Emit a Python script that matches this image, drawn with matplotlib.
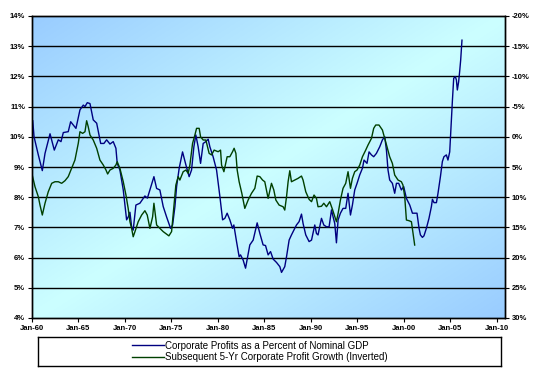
import numpy as np
import matplotlib
matplotlib.use("Agg")
import matplotlib.pyplot as plt
from matplotlib.lines import Line2D

plt.rcParams['font.family'] = ['Liberation Sans', 'DejaVu Sans']

# Corporate profits as % of nominal GDP (left axis)
profit_years = [1960.08, 1960.22, 1960.68, 1961.11, 1961.40, 1961.94, 1962.40, 1962.83, 1963.12, 1963.37,
                1963.90, 1964.16, 1964.73, 1965.16, 1965.52, 1965.70, 1965.95, 1966.24, 1966.59, 1966.96,
                1967.39, 1967.74, 1968.03, 1968.39, 1968.74, 1969.03, 1969.17, 1969.46, 1969.82, 1970.18,
                1970.36, 1970.54, 1970.72, 1970.89, 1971.18, 1971.61, 1972.15, 1972.42, 1972.69, 1973.12,
                1973.41, 1973.76, 1974.12, 1974.48, 1974.91, 1975.13, 1975.38, 1975.56, 1975.84, 1976.20,
                1976.56, 1976.91, 1977.17, 1977.42, 1977.63, 1977.88, 1978.14, 1978.42, 1978.71, 1978.96,
                1979.14, 1979.49, 1979.86, 1980.22, 1980.51, 1980.75, 1981.00, 1981.29, 1981.58, 1981.72,
                1982.01, 1982.29, 1982.44, 1982.72, 1982.98, 1983.44, 1983.80, 1984.23, 1984.52, 1984.87,
                1985.13, 1985.41, 1985.67, 1985.95, 1986.31, 1986.67, 1986.85, 1987.20, 1987.39, 1987.67,
                1987.92, 1988.28, 1988.46, 1988.74, 1989.00, 1989.17, 1989.46, 1989.82, 1990.08, 1990.43,
                1990.61, 1990.78, 1991.15, 1991.40, 1991.69, 1991.97, 1992.23, 1992.40, 1992.58, 1992.76,
                1992.94, 1993.19, 1993.47, 1993.76, 1994.01, 1994.27, 1994.48, 1994.73, 1994.98, 1995.27,
                1995.56, 1995.73, 1996.05, 1996.27, 1996.53, 1996.77, 1997.06, 1997.42, 1997.71, 1997.96,
                1998.14, 1998.31, 1998.49, 1998.78, 1999.03, 1999.22, 1999.46, 1999.75, 2000.00, 2000.29,
                2000.65, 2000.94, 2001.43, 2001.65, 2001.80, 2002.01, 2002.18, 2002.44, 2002.72, 2002.98,
                2003.09, 2003.26, 2003.52, 2003.69, 2003.95, 2004.16, 2004.33, 2004.59, 2004.76, 2004.95,
                2005.05, 2005.24, 2005.38, 2005.56, 2005.67, 2005.77, 2005.91, 2006.02, 2006.13, 2006.27]
profit_pct = [10.53, 10.00, 9.40, 8.88, 9.45, 10.10, 9.56, 9.90, 9.84, 10.14,
              10.17, 10.50, 10.28, 10.89, 11.05, 11.00, 11.13, 11.10, 10.56, 10.45,
              9.78, 9.78, 9.90, 9.76, 9.84, 9.62, 9.12, 8.90, 8.24, 7.25,
              7.35, 7.50, 7.02, 6.91, 7.74, 7.80, 8.04, 7.97, 8.24, 8.68,
              8.29, 8.24, 7.69, 7.35, 6.97, 7.08, 7.69, 8.35, 8.96, 9.50,
              9.07, 8.68, 8.90, 9.67, 10.06, 9.67, 9.12, 9.78, 9.84, 9.92,
              9.67, 9.34, 8.90, 8.02, 7.25, 7.30, 7.47, 7.25, 6.97, 7.08,
              6.53, 6.03, 6.09, 5.92, 5.65, 6.42, 6.58, 7.15, 6.80, 6.42,
              6.40, 6.09, 6.20, 5.95, 5.84, 5.70, 5.51, 5.70, 6.03, 6.58,
              6.75, 6.97, 7.08, 7.19, 7.44, 7.13, 6.75, 6.53, 6.58, 7.08,
              6.80, 6.75, 7.30, 7.08, 7.02, 7.02, 7.58, 7.35, 7.13, 6.49,
              7.25, 7.47, 7.63, 7.63, 8.13, 7.41, 7.74, 8.24, 8.46, 8.74,
              8.96, 9.23, 9.12, 9.50, 9.40, 9.34, 9.45, 9.67, 9.90, 10.00,
              9.56, 8.90, 8.57, 8.46, 8.13, 8.46, 8.46, 8.24, 8.35, 7.96,
              7.74, 7.47, 7.47, 6.97, 6.75, 6.67, 6.72, 6.97, 7.30, 7.69,
              7.93, 7.82, 7.82, 8.13, 8.68, 9.18, 9.34, 9.40, 9.23, 9.50,
              10.11, 11.20, 11.94, 11.99, 11.88, 11.55, 11.82, 12.16, 12.54, 13.20]

# Subsequent 5-yr corporate profit growth, inverted (right axis, %)
growth_years = [1960.00, 1960.32, 1960.68, 1960.86, 1961.11, 1961.40, 1961.75, 1962.12, 1962.47, 1962.83,
                1963.19, 1963.55, 1963.90, 1964.27, 1964.62, 1964.98, 1965.16, 1965.45, 1965.70, 1965.88,
                1966.05, 1966.24, 1966.59, 1966.96, 1967.31, 1967.67, 1967.96, 1968.14, 1968.39, 1968.74,
                1969.03, 1969.17, 1969.46, 1969.82, 1970.11, 1970.35, 1970.54, 1970.72, 1970.89, 1971.08,
                1971.43, 1971.80, 1972.15, 1972.40, 1972.69, 1972.98, 1973.12, 1973.41, 1973.76, 1974.12,
                1974.48, 1974.73, 1975.02, 1975.27, 1975.48, 1975.73, 1975.91, 1976.27, 1976.56, 1976.81,
                1976.99, 1977.28, 1977.53, 1977.71, 1977.99, 1978.14, 1978.42, 1978.71, 1979.06, 1979.32,
                1979.60, 1980.03, 1980.29, 1980.40, 1980.65, 1981.00, 1981.29, 1981.58, 1981.75, 1981.94,
                1982.08, 1982.29, 1982.58, 1982.90, 1983.26, 1983.62, 1983.98, 1984.23, 1984.52, 1984.81,
                1985.05, 1985.41, 1985.77, 1986.02, 1986.24, 1986.59, 1987.02, 1987.20, 1987.39, 1987.56,
                1987.74, 1987.92, 1988.28, 1988.63, 1989.00, 1989.17, 1989.46, 1989.82, 1990.08, 1990.35,
                1990.61, 1990.78, 1991.15, 1991.40, 1991.69, 1992.04, 1992.33, 1992.76, 1992.94, 1993.19,
                1993.47, 1993.76, 1994.01, 1994.27, 1994.48, 1994.73, 1994.98, 1995.27, 1995.56, 1995.91,
                1996.16, 1996.53, 1996.77, 1996.99, 1997.34, 1997.71, 1997.96, 1998.20, 1998.49, 1998.78,
                1999.03, 1999.39, 1999.75, 1999.92, 2000.11, 2000.29, 2000.57, 2000.83, 2001.00, 2001.18]
growth_inv = [6.16, 8.26, 9.92, 11.30, 12.95, 11.00, 9.10, 7.70, 7.44, 7.44,
              7.70, 7.27, 6.60, 5.20, 3.85, 1.08, -0.84, -0.57, -0.84, -2.66,
              -1.67, -0.30, 0.53, 1.90, 3.85, 4.67, 5.50, 6.16, 5.50, 5.22,
              4.67, 4.13, 5.22, 7.44, 9.64, 11.85, 14.06, 15.16, 16.55, 15.70,
              14.06, 12.95, 12.24, 12.95, 15.16, 13.24, 11.00, 14.60, 15.16, 15.70,
              16.10, 16.40, 15.70, 11.58, 7.99, 6.60, 7.16, 5.78, 5.50, 6.05,
              4.67, 1.08, -0.30, -1.40, -1.40, 0.00, 0.53, 0.53, 2.74, 3.00,
              2.20, 2.47, 2.20, 4.67, 5.78, 3.30, 3.30, 2.47, 1.90, 2.74,
              5.50, 7.44, 9.36, 11.85, 10.47, 9.36, 8.53, 6.50, 6.60, 7.16,
              7.44, 10.20, 7.70, 8.80, 10.47, 11.30, 11.58, 12.13, 9.92, 7.44,
              5.62, 7.44, 7.16, 6.88, 6.50, 7.16, 9.10, 10.36, 10.74, 9.64,
              10.20, 11.58, 11.50, 11.00, 11.58, 10.74, 12.00, 14.06, 12.68, 10.47,
              8.53, 7.70, 5.78, 8.53, 6.88, 5.78, 5.50, 4.67, 3.30, 2.20,
              1.36, 0.26, -1.40, -1.95, -1.95, -1.12, 0.26, 1.64, 3.30, 4.40,
              6.33, 7.16, 7.44, 7.99, 9.92, 13.78, 13.89, 14.06, 15.98, 17.92]

x_tick_years = [1960, 1965, 1970, 1975, 1980, 1985, 1990, 1995, 2000, 2005, 2010]
x_tick_labels = ['Jan-60', 'Jan-65', 'Jan-70', 'Jan-75', 'Jan-80', 'Jan-85',
                 'Jan-90', 'Jan-95', 'Jan-00', 'Jan-05', 'Jan-10']
left_ticks = [4, 5, 6, 7, 8, 9, 10, 11, 12, 13, 14]
right_ticks = [-20, -15, -10, -5, 0, 5, 10, 15, 20, 25, 30]

label_profit = 'Corporate Profits as a Percent of Nominal GDP'
label_growth = 'Subsequent 5-Yr Corporate Profit Growth (Inverted)'

W, H = 540, 369
fig = plt.figure(figsize=(W / 100, H / 100), dpi=100)
fig.patch.set_facecolor('white')

ax = fig.add_axes([32 / W, 1 - 318 / H, 473 / W, 302 / H])
ax.set_xlim(1960, 2010.9)
ax.set_ylim(4, 14)

# diagonal two-tone gradient background
nx, ny = 300, 200
u = np.linspace(0, 1, nx)[None, :]
v = np.linspace(0, 1, ny)[:, None]
t = np.abs((u + v) - 1.0)
blue = np.array([0.60, 0.80, 1.00])
cyan = np.array([0.80, 1.00, 1.00])
img = cyan[None, None, :] + (blue - cyan)[None, None, :] * t[..., None]
ax.imshow(img, extent=[1960, 2010.9, 4, 14], origin='upper', aspect='auto', zorder=0)

for yv in left_ticks[1:-1]:
    ax.axhline(yv, color='black', lw=1.0, zorder=1)

ax.plot(profit_years, profit_pct, color='#000080', lw=1.0, zorder=3)

ax.set_yticks(left_ticks)
ax.set_yticklabels([f'{v}%' for v in left_ticks])
ax.set_xticks(x_tick_years)
ax.set_xticklabels(x_tick_labels)
for s in ax.spines.values():
    s.set_color('black')
    s.set_linewidth(1.0)
ax.tick_params(axis='both', length=3, width=0.8, labelsize=5.5, pad=2, direction='out')
for lab in ax.get_xticklabels() + ax.get_yticklabels():
    lab.set_fontweight('bold')

ax2 = ax.twinx()
ax2.set_ylim(30, -20)
ax2.patch.set_visible(False)
ax2.plot(growth_years, growth_inv, color='#004000', lw=1.0, zorder=2)
ax2.set_yticks(right_ticks)
ax2.set_yticklabels([f'{v}%' for v in right_ticks])
ax2.tick_params(axis='y', length=3, width=0.8, labelsize=5.5, pad=2, direction='out')
for lab in ax2.get_yticklabels():
    lab.set_fontweight('bold')
for s in ax2.spines.values():
    s.set_color('black')
    s.set_linewidth(1.0)

# legend box
lax = fig.add_axes([38 / W, 1 - 366 / H, 463 / W, 29 / H])
lax.set_xticks([])
lax.set_yticks([])
for s in lax.spines.values():
    s.set_color('black')
    s.set_linewidth(1.0)
handles = [Line2D([], [], color='#000080', lw=1.0),
           Line2D([], [], color='#004000', lw=1.0)]
lax.legend(handles, [label_profit, label_growth], loc='center', frameon=False,
           fontsize=7.0, handlelength=3.2, handletextpad=0.2, labelspacing=0.2,
           borderaxespad=0, bbox_to_anchor=(0.48, 0.5))

fig.savefig('out.png', dpi=100)
